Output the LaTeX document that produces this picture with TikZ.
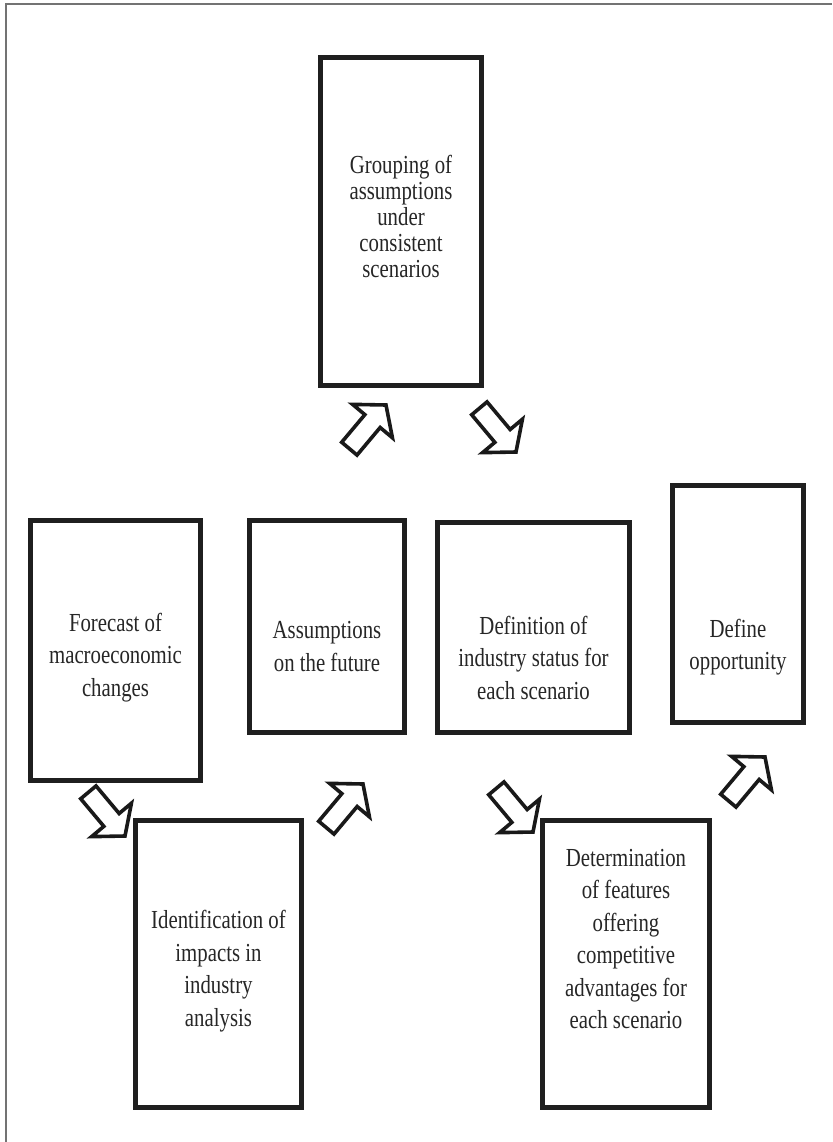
\documentclass[tikz,border=0pt]{standalone}
\usepackage{fontspec}
\setmainfont{Liberation Serif}[FakeStretch=0.8]
\begin{document}
\begin{tikzpicture}[x=1pt,y=-1pt,
  box/.style={draw=black!88, line width=4.8pt, fill=none, inner sep=0pt},
  label/.style={align=center, text=black!85, font=\fontsize{26}{32.5}\selectfont},
  tightlabel/.style={label, font=\fontsize{26}{26}\selectfont},
  arrowline/.style={draw=black!90, line width=3.6pt, line join=miter, fill=white},
  frame/.style={draw=black!55, line width=1.6pt},
  blockarrow/.pic={\path[arrowline] (0,0) -- (-21,-26) -- (-21,-10) -- (-57,-10)
      -- (-57,10) -- (-21,10) -- (-21,26) -- cycle;}]
\useasboundingbox (0,0) rectangle (832,1142);
% partial outer frame
\draw[frame] (6,1142) -- (6,4) -- (832,4);

% process boxes (centre, width, height of the stroke centreline)
\node[box, minimum width=161.5pt, minimum height=328.5pt] (grp) at (401,221.5) {};
\node[box, minimum width=170.5pt, minimum height=260.5pt] (fc)  at (115.5,650.5) {};
\node[box, minimum width=155.5pt, minimum height=212.5pt] (asm) at (327,626.5) {};
\node[box, minimum width=192.5pt, minimum height=210.5pt] (def) at (533.5,627.5) {};
\node[box, minimum width=130.5pt, minimum height=237.5pt] (dop) at (738,604) {};
\node[box, minimum width=166.5pt, minimum height=287.5pt] (idn) at (218.5,964) {};
\node[box, minimum width=167.5pt, minimum height=287.5pt] (det) at (626,964) {};

% box texts
\node[tightlabel] (grpT) at ([yshift=5pt]grp.center) {Grouping of\\assumptions\\under\\consistent\\scenarios};
\node[label] (fcT)  at ([yshift=-7pt]fc.center) {Forecast of\\macroeconomic\\changes};
\node[label] (asmT) at ([yshift=-20pt]asm.center) {Assumptions\\on the future};
\node[label] (defT) at ([yshift=-30pt]def.center) {Definition of\\industry status for\\each scenario};
\node[label] (dopT) at ([yshift=-43pt]dop.center) {Define\\opportunity};
\node[label] (idnT) at ([yshift=-7pt]idn.center) {Identification of\\impacts in\\industry\\analysis};
\node[label] (detT) at ([yshift=25pt]det.center) {Determination\\of features\\offering\\competitive\\advantages for\\each scenario};

% hollow block arrows between the stages
\coordinate (a1) at (386,405);
\coordinate (a2) at (516,452);
\coordinate (a3) at (125,836);
\coordinate (a4) at (363,784);
\coordinate (a5) at (533,832);
\coordinate (a6) at (765,757);
\pic[rotate=50]  at (a1) {blockarrow};
\pic[rotate=-50] at (a2) {blockarrow};
\pic[rotate=-50] at (a3) {blockarrow};
\pic[rotate=50]  at (a4) {blockarrow};
\pic[rotate=-50] at (a5) {blockarrow};
\pic[rotate=50]  at (a6) {blockarrow};
\end{tikzpicture}
\end{document}
